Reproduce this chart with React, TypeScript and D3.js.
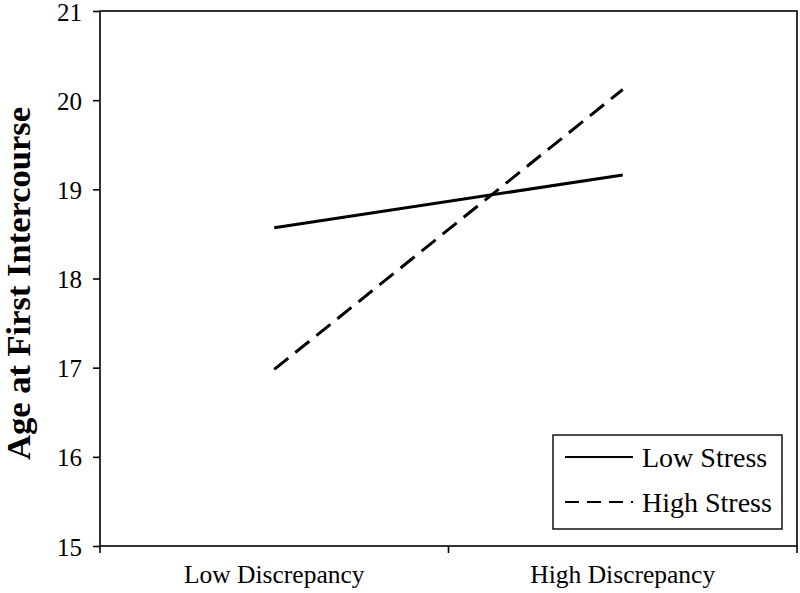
import React, { useEffect, useRef } from 'react'
import * as d3 from 'd3'

// chart data
const categories = ['Low Discrepancy', 'High Discrepancy']
const lowStress = [18.57, 19.16]
const highStress = [16.98, 20.12]
const seriesNames = ['Low Stress', 'High Stress']
const yTicks = [15, 16, 17, 18, 19, 20, 21]

const width = 800
const height = 593

const App = () => {
  const svgRef = useRef<SVGSVGElement>(null)

  useEffect(() => {
    const svg = d3.select(svgRef.current)
    svg.selectAll('*').remove()

    const margin = { top: 11, right: 3, bottom: 47, left: 100 }
    const innerWidth = width - margin.left - margin.right
    const innerHeight = height - margin.top - margin.bottom
    const font = '"Liberation Serif", "Times New Roman", serif'

    const xScale = d3.scaleBand<string>()
      .domain(categories)
      .range([0, innerWidth])

    const yScale = d3.scaleLinear()
      .domain([15, 21])
      .range([innerHeight, 0])

    const g = svg.append('g')
      .attr('transform', `translate(${margin.left}, ${margin.top})`)

    // frame
    g.append('rect')
      .attr('x', 0)
      .attr('y', 0)
      .attr('width', innerWidth)
      .attr('height', innerHeight)
      .attr('fill', 'none')
      .attr('stroke', '#000')
      .attr('stroke-width', 1.6)

    // y axis
    const yAxis = g.append('g')
      .call(d3.axisLeft(yScale).tickValues(yTicks).tickSize(7).tickPadding(11).tickFormat(d3.format('d')))
    yAxis.select('.domain').remove()
    yAxis.selectAll('line').attr('stroke-width', 1.6)
    yAxis.selectAll('text')
      .style('font-family', font)
      .style('font-size', '25px')
      .attr('dy', '0.36em')

    // x axis ticks at band edges
    const edges = [0, ...categories.map(c => (xScale(c) ?? 0) + xScale.bandwidth())]
    g.selectAll('.xtick')
      .data(edges)
      .enter().append('line')
      .attr('x1', d => d)
      .attr('x2', d => d)
      .attr('y1', innerHeight)
      .attr('y2', innerHeight + 7)
      .attr('stroke', '#000')
      .attr('stroke-width', 1.6)

    g.selectAll('.xlabel')
      .data(categories)
      .enter().append('text')
      .attr('x', d => (xScale(d) ?? 0) + xScale.bandwidth() / 2)
      .attr('y', innerHeight + 37)
      .attr('text-anchor', 'middle')
      .style('font-family', font)
      .style('font-size', '25.5px')
      .text(d => d)

    // lines
    const line = d3.line<number>()
      .x((d, i) => (xScale(categories[i]) ?? 0) + xScale.bandwidth() / 2)
      .y(d => yScale(d))

    g.append('path')
      .datum(lowStress)
      .attr('fill', 'none')
      .attr('stroke', '#000')
      .attr('stroke-width', 3)
      .attr('d', line)

    g.append('path')
      .datum(highStress)
      .attr('fill', 'none')
      .attr('stroke', '#000')
      .attr('stroke-width', 3)
      .attr('stroke-dasharray', '18,9')
      .attr('d', line)

    // y axis title
    svg.append('text')
      .attr('transform', `translate(30, ${margin.top + innerHeight / 2 + 5}) rotate(-90)`)
      .attr('text-anchor', 'middle')
      .style('font-family', font)
      .style('font-size', '34.5px')
      .style('font-weight', 'bold')
      .text('Age at First Intercourse')

    // legend
    const legend = svg.append('g')
      .attr('transform', 'translate(553, 435)')

    legend.append('rect')
      .attr('width', 229)
      .attr('height', 94)
      .attr('fill', '#fff')
      .attr('stroke', '#000')
      .attr('stroke-width', 1.4)

    const items = legend.selectAll('.legend-item')
      .data(seriesNames)
      .enter().append('g')
      .attr('transform', (d, i) => `translate(0, ${22 + i * 45})`)

    items.append('line')
      .attr('x1', 12)
      .attr('x2', 80)
      .attr('y1', 0)
      .attr('y2', 0)
      .attr('stroke', '#000')
      .attr('stroke-width', 2)
      .attr('stroke-dasharray', (d, i) => (i === 1 ? '14,8' : null))

    items.append('text')
      .attr('x', 89)
      .attr('y', 10)
      .style('font-family', font)
      .style('font-size', '28px')
      .text(d => d)
  }, [])

  return (
    <svg
      ref={svgRef}
      width={width}
      height={height}
      style={{ position: 'absolute', left: 0, top: 0, background: '#fff' }}
    />
  )
}

export default App
